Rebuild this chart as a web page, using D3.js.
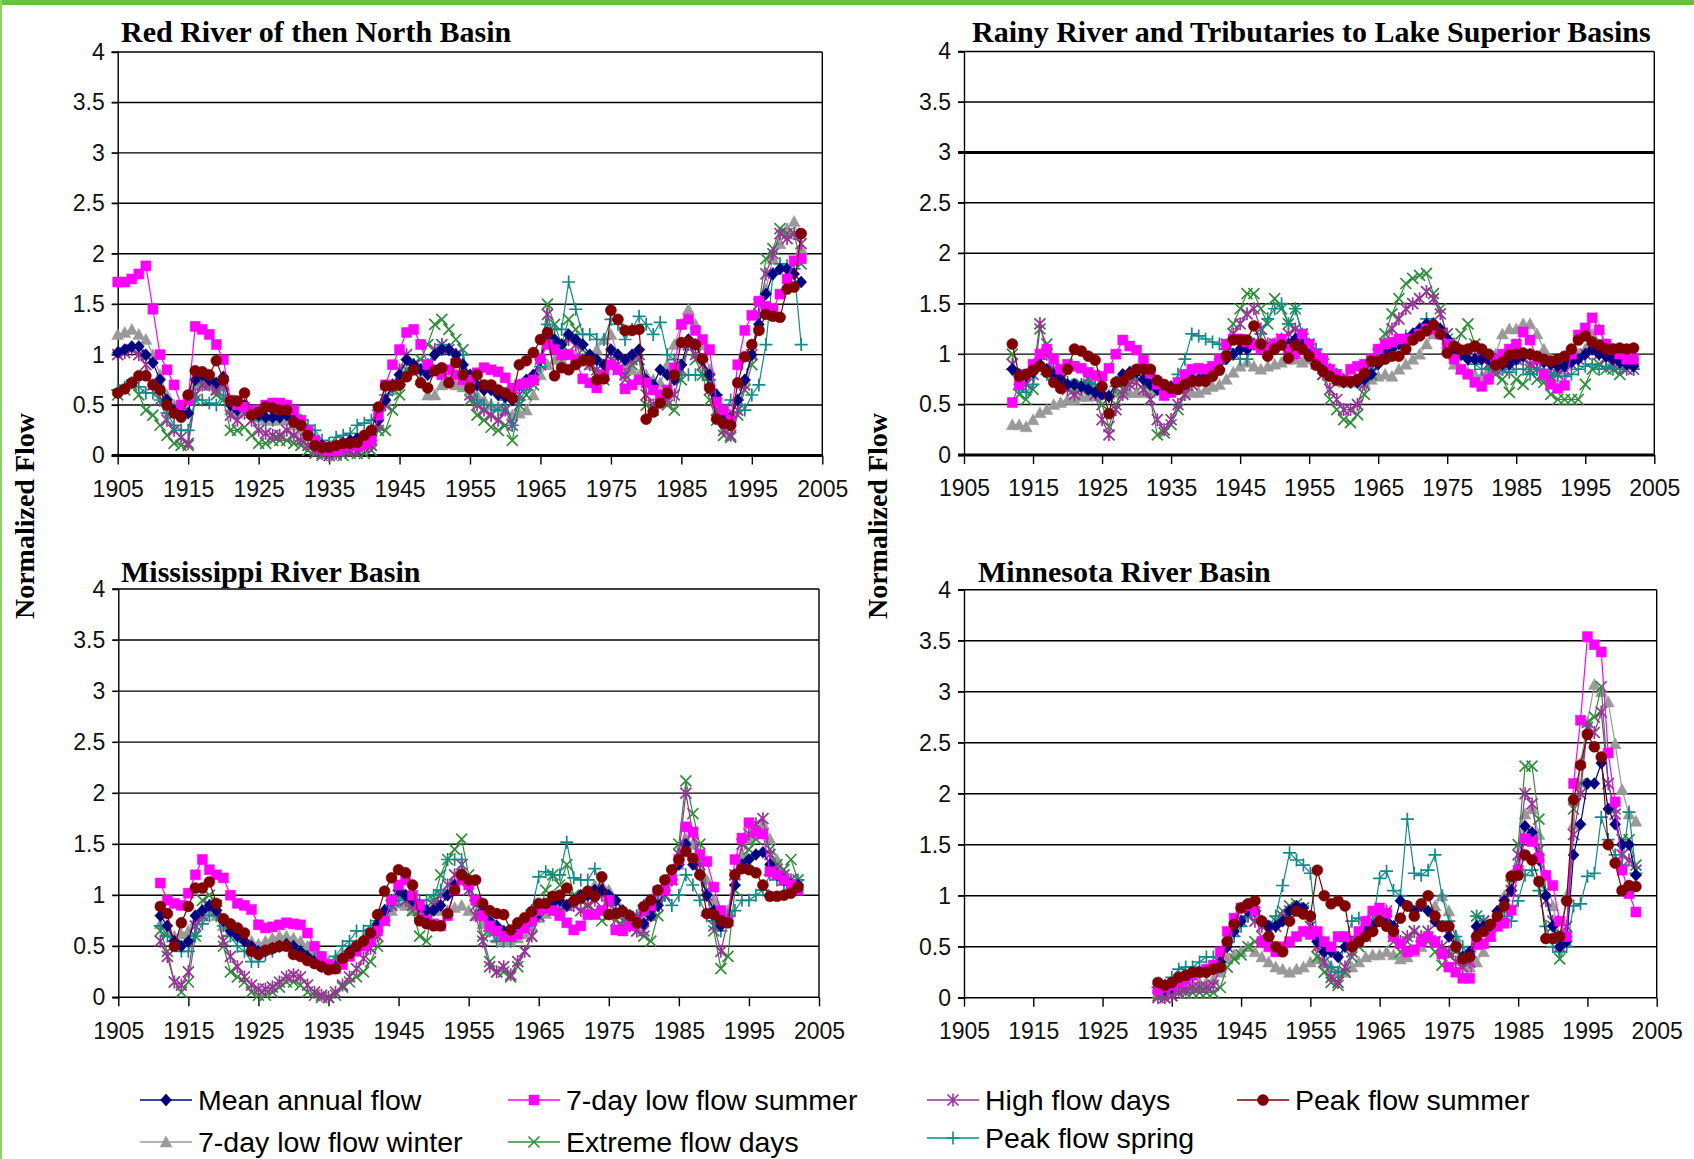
<!DOCTYPE html>
<html><head><meta charset="utf-8">
<script src="https://cdn.jsdelivr.net/npm/d3@7"></script>
<style>body{margin:0;background:#fff;} svg{display:block;}</style>
</head><body>
<svg id="c" width="1694" height="1159"></svg>
<script>
// ---------------- DATA ----------------
const seriesLabels = ["Mean annual flow","7-day low flow summer","High flow days","Peak flow summer","7-day low flow winter","Extreme flow days","Peak flow spring"];
const panelTitles = ["Red River of then North Basin","Rainy River and Tributaries to Lake Superior Basins","Mississippi River Basin","Minnesota River Basin"];
const yTickValues = [0,0.5,1,1.5,2,2.5,3,3.5,4];
const xTickValues = [1905,1915,1925,1935,1945,1955,1965,1975,1985,1995,2005];

// Red River of the North (1905-2002)
const redStart = 1905;
const redMean = [1.02,1.05,1.08,1.08,1.00,
0.92,0.75,0.55,0.45,0.42,0.42,0.75,0.80,0.75,0.72,
0.78,0.50,0.45,0.50,0.45,0.40,0.38,0.38,0.38,0.40,
0.35,0.30,0.22,0.15,0.10,0.08,0.08,0.12,0.15,0.17,
0.18,0.20,0.35,0.55,0.70,0.80,0.95,0.90,0.85,0.80,
1.00,1.05,1.05,1.00,0.90,0.80,0.70,0.65,0.65,0.60,
0.58,0.55,0.70,0.75,0.80,0.95,1.20,1.15,1.10,1.20,
1.15,1.10,1.00,0.95,0.90,1.05,1.00,0.95,1.00,1.05,
0.75,0.70,0.85,0.80,0.75,0.90,1.15,1.10,0.95,0.80,
0.60,0.40,0.38,0.55,0.75,1.00,1.30,1.60,1.80,1.85,
1.85,1.80,1.72];
const redSummer = [1.72,1.72,1.75,1.80,1.88,
1.45,1.00,0.85,0.70,0.50,0.55,1.28,1.25,1.20,1.10,
0.95,0.55,0.50,0.48,0.45,0.45,0.50,0.52,0.52,0.50,
0.45,0.35,0.25,0.15,0.08,0.05,0.05,0.08,0.10,0.10,
0.12,0.15,0.40,0.70,0.90,1.05,1.22,1.25,1.10,0.90,
0.85,0.80,0.85,0.80,0.75,0.75,0.82,0.87,0.85,0.83,
0.77,0.67,0.70,0.72,0.75,0.96,1.10,1.05,1.00,1.00,
0.95,0.76,0.72,0.67,0.80,0.90,0.85,0.66,0.70,0.75,
0.72,0.65,0.60,0.65,0.87,1.30,1.35,1.24,1.15,1.05,
0.53,0.45,0.35,0.90,1.24,1.39,1.53,1.48,1.45,1.60,
1.75,1.93,1.95];
const redHigh = [1.00,1.02,1.05,1.00,0.90,
0.70,0.55,0.35,0.25,0.18,0.12,0.60,0.70,0.70,0.65,
0.70,0.40,0.35,0.42,0.35,0.25,0.22,0.20,0.20,0.25,
0.20,0.15,0.10,0.05,0.02,0.00,0.02,0.05,0.05,0.05,
0.08,0.10,0.30,0.50,0.70,0.85,1.00,0.90,0.85,0.90,
1.05,1.10,1.05,1.00,0.85,0.60,0.50,0.45,0.40,0.35,
0.45,0.30,0.60,0.70,0.75,0.90,1.40,1.10,1.00,1.15,
1.10,0.95,0.90,0.85,0.80,0.95,0.90,0.80,0.95,1.00,
0.60,0.50,0.60,0.55,0.60,0.85,1.10,1.00,0.90,0.65,
0.45,0.25,0.20,0.45,0.70,1.00,1.40,1.80,2.00,2.20,
2.15,2.20,2.10];
const redPeakSummer = [0.62,0.66,0.72,0.79,0.79,
0.70,0.65,0.50,0.42,0.38,0.60,0.84,0.83,0.80,0.94,
0.75,0.54,0.54,0.62,0.40,0.43,0.48,0.47,0.45,0.45,
0.33,0.30,0.20,0.10,0.08,0.08,0.10,0.12,0.12,0.13,
0.20,0.25,0.48,0.69,0.69,0.70,0.78,0.85,0.72,0.67,
0.84,0.87,0.72,0.92,0.80,0.67,0.80,0.70,0.70,0.65,
0.62,0.57,0.90,0.94,1.02,1.15,1.22,0.79,0.87,0.85,
0.90,0.94,0.94,0.75,0.76,1.44,1.35,1.24,1.24,1.25,
0.36,0.43,0.52,0.62,0.80,1.12,1.13,1.10,0.96,0.67,
0.36,0.32,0.30,0.72,0.98,1.10,1.24,1.40,1.38,1.37,
1.65,1.67,2.20];
const redWinter = [1.20,1.22,1.25,1.20,1.15,
1.00,0.80,0.60,0.50,0.45,0.45,0.70,0.72,0.70,0.65,
0.70,0.45,0.42,0.45,0.42,0.38,0.35,0.35,0.35,0.35,
0.30,0.25,0.20,0.12,0.08,0.06,0.06,0.08,0.10,0.10,
0.12,0.15,0.30,0.55,0.65,0.75,0.85,0.85,0.75,0.60,
0.60,0.70,0.75,0.70,0.68,0.65,0.60,0.55,0.50,0.48,
0.45,0.40,0.42,0.45,0.60,0.80,0.90,0.95,0.95,1.00,
1.00,0.95,0.90,1.05,1.15,1.20,1.00,0.90,0.85,0.80,
0.80,0.75,0.72,0.90,1.10,1.30,1.45,1.30,1.10,0.85,
0.60,0.45,0.40,0.55,0.75,1.00,1.30,1.65,1.95,2.10,
2.25,2.32,2.05];
const redExtreme = [0.60,0.65,0.70,0.60,0.45,
0.40,0.30,0.20,0.12,0.10,0.10,0.55,0.75,0.72,0.60,
0.55,0.25,0.25,0.28,0.20,0.12,0.12,0.15,0.15,0.15,
0.12,0.10,0.05,0.02,0.00,0.00,0.00,0.00,0.02,0.02,
0.02,0.05,0.25,0.25,0.45,0.60,0.85,0.90,0.95,1.10,
1.30,1.35,1.25,1.15,1.05,0.55,0.40,0.35,0.28,0.25,
0.30,0.15,0.50,0.60,0.70,0.95,1.50,1.30,1.10,1.35,
1.25,1.05,0.95,0.80,0.75,0.90,0.85,0.75,0.90,0.95,
0.50,0.45,0.55,0.50,0.45,0.75,1.10,0.95,0.80,0.55,
0.35,0.20,0.18,0.40,0.65,0.90,1.50,1.95,2.05,2.25,
2.20,2.20,1.90];
const redSpring = [0.65,0.68,0.72,0.68,0.62,
0.62,0.55,0.42,0.30,0.25,0.25,0.55,0.55,0.52,0.50,
0.60,0.50,0.45,0.48,0.40,0.35,0.35,0.35,0.38,0.42,
0.40,0.35,0.30,0.25,0.15,0.12,0.18,0.20,0.22,0.30,
0.32,0.35,0.45,0.60,0.65,0.70,0.80,0.90,0.85,0.90,
1.00,1.10,1.05,1.00,1.00,0.75,0.55,0.50,0.50,0.45,
0.55,0.30,0.55,0.65,0.75,0.88,1.30,1.25,1.25,1.72,
1.45,1.20,1.20,1.15,1.15,1.35,1.30,1.15,1.25,1.38,
1.30,1.20,1.32,1.00,0.95,0.80,0.80,0.80,0.80,0.75,
0.60,0.45,0.55,0.55,0.45,0.60,0.70,1.10,1.80,1.90,
1.88,1.85,1.10];

// Rainy River and Tributaries to Lake Superior (1912-2002)
const rainyStart = 1912;
const rainyMean = [0.85,0.80,0.78,0.82,0.90,0.85,0.80,0.75,
0.70,0.70,0.68,0.65,0.62,0.60,0.58,0.72,0.80,0.82,
0.82,0.75,0.70,0.65,0.65,0.68,0.70,0.72,0.75,0.75,
0.80,0.82,0.85,0.95,1.00,1.05,1.05,1.10,1.05,1.05,
1.05,1.10,1.10,1.15,1.10,1.05,0.95,0.85,0.80,0.75,
0.72,0.72,0.72,0.75,0.80,0.90,1.00,1.05,1.10,1.15,
1.20,1.25,1.30,1.30,1.25,1.15,1.05,1.00,0.95,0.95,
0.95,0.95,0.95,0.90,0.90,0.95,0.98,1.00,0.95,0.92,
0.90,0.88,0.88,0.92,0.95,1.00,1.05,1.00,0.98,0.95,
0.92,0.90,0.88];
const rainySummer = [0.52,0.70,0.80,0.90,1.00,1.05,0.95,0.85,
0.90,0.88,0.86,0.82,0.79,0.78,0.86,1.00,1.14,1.08,
1.04,0.94,0.81,0.70,0.59,0.62,0.72,0.80,0.85,0.86,
0.85,0.88,0.95,1.10,1.15,1.15,1.12,1.10,1.05,1.05,
1.10,1.15,1.05,1.00,1.20,1.10,1.00,0.95,0.85,0.80,
0.75,0.85,0.88,0.90,0.95,1.05,1.10,1.12,1.15,1.15,
1.15,1.20,1.25,1.25,1.20,1.10,0.95,0.85,0.80,0.72,
0.68,0.75,0.95,1.00,1.05,1.10,1.22,1.14,0.95,0.80,
0.70,0.66,0.69,1.00,1.19,1.26,1.36,1.24,1.10,1.05,
1.00,0.95,0.95];
const rainyHigh = [0.90,0.75,0.70,0.80,1.30,1.00,0.85,0.75,
0.65,0.60,0.65,0.70,0.60,0.35,0.20,0.45,0.60,0.70,
0.72,0.65,0.55,0.35,0.25,0.35,0.50,0.60,0.70,0.75,
0.80,0.85,0.90,1.05,1.20,1.30,1.40,1.45,1.25,1.10,
1.10,1.15,1.20,1.25,1.15,1.05,0.95,0.80,0.65,0.55,
0.45,0.45,0.50,0.70,0.85,1.00,1.10,1.25,1.35,1.45,
1.50,1.55,1.62,1.55,1.40,1.20,1.05,1.00,1.00,1.05,
0.95,0.90,0.85,0.85,0.90,0.95,0.95,0.90,0.85,0.80,
0.78,0.80,0.85,0.90,0.95,1.00,1.05,1.00,0.95,0.90,
0.88,0.85,0.85];
const rainyPeakSummer = [1.10,0.78,0.80,0.84,0.88,0.82,0.72,0.66,
0.85,1.05,1.03,0.98,0.94,0.68,0.41,0.72,0.73,0.80,
0.85,0.85,0.85,0.74,0.70,0.66,0.65,0.70,0.73,0.73,
0.73,0.78,0.84,0.98,1.14,1.14,1.14,1.28,1.10,0.98,
1.05,1.09,0.96,1.09,1.05,0.98,0.89,0.83,0.78,0.74,
0.73,0.73,0.75,0.81,0.93,0.93,0.95,0.98,0.98,1.05,
1.14,1.18,1.23,1.29,1.20,1.01,1.08,1.04,1.05,1.08,
1.05,1.00,0.89,0.92,0.99,1.00,1.01,1.00,0.98,0.95,
0.93,0.95,0.98,1.05,1.14,1.18,1.12,1.09,1.05,1.05,
1.06,1.05,1.06];
const rainyWinter = [0.30,0.30,0.28,0.35,0.42,0.45,0.50,0.52,
0.55,0.55,0.58,0.58,0.60,0.62,0.60,0.62,0.62,0.62,
0.62,0.62,0.62,0.65,0.65,0.65,0.68,0.65,0.62,0.62,
0.65,0.68,0.70,0.75,0.82,0.88,0.92,0.88,0.85,0.88,
0.90,0.92,0.95,0.95,0.92,0.95,0.90,0.85,0.80,0.75,
0.72,0.72,0.72,0.72,0.75,0.78,0.80,0.78,0.85,0.90,
0.95,1.00,1.10,1.20,1.20,1.10,0.90,0.85,0.82,0.80,
0.78,0.85,1.00,1.20,1.25,1.25,1.30,1.30,1.20,1.05,
0.95,0.85,0.90,0.95,1.00,1.05,1.20,1.25,1.10,1.05,
1.00,0.95,0.92];
const rainyExtreme = [1.00,0.60,0.55,0.65,1.25,1.10,0.95,0.85,
0.70,0.65,0.70,0.75,0.65,0.50,0.28,0.50,0.65,0.75,
0.78,0.70,0.55,0.20,0.22,0.30,0.45,0.60,0.70,0.75,
0.80,0.85,0.95,1.10,1.30,1.45,1.60,1.60,1.45,1.30,
1.55,1.45,1.30,1.45,1.20,1.10,0.95,0.80,0.55,0.45,
0.35,0.32,0.40,0.60,0.80,1.00,1.20,1.40,1.55,1.70,
1.75,1.78,1.80,1.60,1.45,1.15,1.00,1.20,1.30,1.10,
0.95,0.90,0.80,0.75,0.62,0.75,0.70,0.85,0.75,0.72,
0.60,0.55,0.55,0.55,0.55,0.70,0.85,0.90,0.85,0.85,
0.80,0.90,0.90];
const rainySpring = [0.85,0.65,0.62,0.70,0.95,0.80,0.75,0.72,
0.72,0.70,0.70,0.72,0.70,0.62,0.58,0.68,0.78,0.82,
0.82,0.75,0.70,0.65,0.60,0.65,0.80,0.95,1.20,1.18,
1.15,1.12,1.10,1.05,1.00,0.95,0.95,1.10,1.20,1.35,
1.45,1.50,1.30,1.45,1.20,1.10,1.05,0.95,0.85,0.80,
0.75,0.72,0.72,0.78,0.85,0.95,1.05,1.10,1.12,1.18,
1.20,1.25,1.35,1.30,1.25,1.15,1.10,1.00,0.95,0.90,
0.85,0.85,0.88,0.85,0.82,0.85,0.85,0.80,0.85,0.85,
0.82,0.78,0.78,0.80,0.85,0.88,0.90,0.85,0.88,0.85,
0.85,0.88,0.85];

// Mississippi River (1911-2002)
const missStart = 1911;
const missMean = [0.80,0.70,0.55,0.50,0.55,0.80,0.85,0.90,0.85,
0.75,0.65,0.60,0.55,0.50,0.45,0.45,0.48,0.50,0.52,
0.50,0.45,0.40,0.35,0.30,0.28,0.30,0.35,0.45,0.50,
0.55,0.62,0.72,0.85,0.95,1.05,1.00,0.95,0.90,0.85,
0.85,0.90,1.00,1.10,1.20,1.10,0.95,0.85,0.75,0.70,
0.65,0.62,0.65,0.70,0.75,0.82,0.88,0.92,0.95,0.90,
0.95,1.00,1.00,1.05,1.05,1.00,0.95,0.85,0.80,0.75,
0.72,0.80,0.90,1.05,1.15,1.30,1.50,1.30,1.20,1.00,
0.85,0.70,0.75,1.10,1.30,1.35,1.40,1.42,1.30,1.20,
1.15,1.10,1.10];
const missSummer = [1.12,0.95,0.92,0.90,1.02,1.20,1.35,1.25,1.20,
1.17,1.00,0.92,0.90,0.86,0.71,0.68,0.69,0.71,0.73,
0.72,0.71,0.63,0.50,0.40,0.32,0.28,0.32,0.40,0.45,
0.50,0.55,0.65,0.75,0.95,1.10,1.15,1.00,0.90,0.75,
0.72,0.70,0.80,1.05,1.15,1.10,0.95,0.80,0.70,0.65,
0.60,0.60,0.62,0.68,0.75,0.85,0.88,0.85,0.80,0.73,
0.66,0.70,0.81,0.81,0.85,0.95,0.66,0.65,0.70,0.75,
0.85,0.90,1.04,1.05,1.15,1.35,1.67,1.62,1.40,1.33,
1.08,0.85,0.75,1.35,1.56,1.71,1.62,1.60,1.23,1.20,
1.15,1.10,1.05];
const missHigh = [0.55,0.40,0.15,0.12,0.25,0.70,0.80,0.90,0.85,
0.55,0.40,0.30,0.20,0.12,0.08,0.08,0.10,0.15,0.20,
0.22,0.20,0.12,0.05,0.02,0.00,0.05,0.12,0.20,0.28,
0.38,0.48,0.60,0.80,0.90,1.00,0.95,0.90,0.85,0.85,
0.90,1.00,1.10,1.20,1.30,1.05,0.80,0.55,0.30,0.25,
0.30,0.22,0.35,0.45,0.60,0.80,0.90,0.90,0.85,0.90,
0.90,0.85,0.90,0.95,1.00,0.95,0.85,0.75,0.70,0.65,
0.65,0.80,0.90,1.00,1.15,1.40,2.00,1.60,1.30,1.00,
0.70,0.45,0.75,1.20,1.50,1.60,1.70,1.75,1.40,1.25,
1.20,1.15,1.10];
const missPeakSummer = [0.89,0.82,0.50,0.73,0.89,1.07,1.07,1.13,0.92,
0.77,0.72,0.68,0.63,0.45,0.42,0.46,0.48,0.50,0.50,
0.42,0.40,0.36,0.33,0.30,0.27,0.28,0.38,0.43,0.50,
0.55,0.63,0.81,1.04,1.17,1.25,1.22,1.10,0.75,0.72,
0.70,0.70,0.82,1.05,1.20,1.15,1.15,0.92,0.85,0.82,
0.81,0.66,0.73,0.78,0.84,0.92,0.92,0.99,1.00,1.07,
0.94,0.97,1.04,0.99,1.18,0.81,0.82,0.84,0.80,0.73,
0.89,0.95,1.05,1.15,1.25,1.35,1.43,1.36,1.20,0.82,
0.81,0.75,0.73,1.20,1.26,1.25,1.22,1.10,0.99,0.99,
1.00,1.02,1.08];
const missWinter = [0.72,0.65,0.60,0.62,0.65,0.75,0.80,0.85,0.80,
0.70,0.65,0.60,0.58,0.55,0.52,0.55,0.58,0.60,0.60,
0.58,0.55,0.50,0.45,0.40,0.35,0.38,0.42,0.48,0.52,
0.58,0.62,0.70,0.80,0.85,0.92,0.90,0.85,0.85,0.82,
0.85,0.85,0.85,0.88,0.90,0.85,0.80,0.72,0.65,0.58,
0.55,0.55,0.58,0.62,0.70,0.78,0.82,0.85,0.88,0.90,
0.95,1.00,1.05,1.10,1.10,1.05,0.95,0.85,0.80,0.80,
0.80,0.85,0.95,1.05,1.15,1.30,1.55,1.50,1.35,1.15,
0.95,0.80,0.85,1.20,1.40,1.55,1.65,1.70,1.55,1.35,
1.20,1.10,1.05];
const missExtreme = [0.65,0.45,0.15,0.05,0.15,0.60,0.95,1.00,0.90,
0.50,0.25,0.20,0.15,0.05,0.02,0.02,0.05,0.10,0.15,
0.15,0.12,0.05,0.02,0.00,0.00,0.02,0.10,0.15,0.20,
0.25,0.35,0.50,0.75,0.90,1.00,0.95,0.85,0.60,0.55,
0.95,1.20,1.35,1.45,1.55,1.20,0.90,0.60,0.35,0.25,
0.25,0.20,0.30,0.45,0.60,0.80,1.05,1.20,1.10,1.30,
1.00,0.95,0.90,0.85,0.75,0.80,0.75,0.70,0.70,0.65,
0.60,0.55,0.80,1.00,1.20,1.50,2.12,1.80,1.50,1.05,
0.65,0.28,0.40,1.05,1.30,1.45,1.55,1.60,1.45,1.30,
1.25,1.35,1.15];
const missSpring = [0.70,0.60,0.55,0.45,0.45,0.60,0.72,0.80,0.80,
0.70,0.60,0.50,0.45,0.35,0.35,0.42,0.45,0.50,0.52,
0.50,0.45,0.40,0.38,0.35,0.30,0.40,0.50,0.55,0.65,
0.65,0.70,0.75,0.85,0.90,0.95,1.00,1.00,0.95,0.95,
1.00,1.05,1.35,1.35,1.35,1.10,0.95,0.85,0.65,0.55,
0.55,0.55,0.65,0.70,0.85,1.18,1.23,1.20,1.20,1.52,
1.17,1.15,1.15,1.26,1.05,0.95,0.85,0.80,0.80,0.80,
0.90,0.95,1.00,1.00,0.90,1.00,1.20,1.10,0.95,0.80,
0.75,0.65,0.80,0.85,0.95,0.95,1.00,1.05,1.20,1.15,
1.10,1.10,1.15];

// Minnesota River (1933-2002)
const minnStart = 1933;
const minnMean = [0.10,0.08,0.10,0.15,0.20,0.22,0.25,
0.25,0.28,0.35,0.50,0.65,0.75,0.85,0.85,0.75,0.70,
0.70,0.75,0.85,0.90,0.88,0.80,0.55,0.45,0.45,0.40,
0.50,0.55,0.60,0.65,0.70,0.75,0.75,0.70,0.95,0.90,
0.85,0.90,0.85,0.75,0.70,0.60,0.50,0.40,0.45,0.70,
0.70,0.70,0.85,0.95,1.05,1.25,1.68,1.62,1.35,1.00,
0.70,0.50,0.55,1.40,1.70,2.10,2.10,2.30,1.85,1.70,
1.50,1.50,1.20];
const minnSummer = [0.08,0.10,0.12,0.15,0.18,0.22,0.25,
0.28,0.32,0.45,0.65,0.78,0.88,0.90,0.85,0.55,0.50,
0.45,0.50,0.55,0.60,0.65,0.62,0.65,0.55,0.50,0.60,
0.60,0.55,0.65,0.75,0.85,0.88,0.83,0.60,0.53,0.45,
0.47,0.55,0.60,0.55,0.43,0.30,0.25,0.19,0.19,0.52,
0.53,0.60,0.70,0.73,0.86,1.25,1.56,1.53,1.37,1.20,
1.10,0.75,0.60,2.10,2.72,3.54,3.46,3.39,2.40,1.92,
1.25,1.02,0.84];
const minnHigh = [0.00,0.00,0.02,0.05,0.08,0.10,0.10,
0.10,0.12,0.30,0.50,0.65,0.75,0.80,0.75,0.70,0.65,
0.70,0.80,0.85,0.88,0.85,0.70,0.50,0.35,0.20,0.15,
0.30,0.45,0.55,0.65,0.75,0.80,0.85,0.60,0.55,0.60,
0.65,0.60,0.65,0.55,0.50,0.45,0.35,0.30,0.35,0.65,
0.75,0.70,0.80,0.95,1.05,1.40,2.00,1.90,1.45,0.95,
0.75,0.50,0.70,1.60,2.00,2.65,2.60,2.80,2.10,1.80,
1.40,1.35,1.25];
const minnPeakSummer = [0.15,0.12,0.15,0.20,0.22,0.25,0.25,
0.25,0.28,0.30,0.55,0.72,0.88,0.92,0.95,0.75,0.60,
0.50,0.45,0.75,0.85,0.82,0.80,1.25,1.00,0.92,0.95,
0.90,0.50,0.55,0.60,0.65,0.75,0.70,0.65,0.78,0.90,
0.80,0.92,1.00,0.80,0.70,0.70,0.50,0.38,0.40,0.60,
0.65,0.72,0.80,0.90,1.19,1.20,1.40,1.35,1.14,0.58,
0.58,0.60,0.95,1.94,2.28,2.58,2.46,2.36,1.50,1.32,
1.05,1.10,1.09];
const minnWinter = [0.05,0.05,0.08,0.10,0.12,0.12,0.15,
0.15,0.18,0.25,0.38,0.42,0.45,0.50,0.45,0.40,0.35,
0.30,0.28,0.25,0.28,0.30,0.35,0.38,0.35,0.30,0.25,
0.25,0.30,0.35,0.40,0.42,0.42,0.45,0.42,0.38,0.40,
0.45,0.50,0.60,0.90,1.00,0.85,0.60,0.40,0.30,0.35,
0.45,0.60,0.80,1.00,1.20,1.30,1.80,1.85,1.60,1.20,
0.90,0.60,1.00,1.70,2.30,2.70,3.07,3.00,2.90,2.49,
2.04,1.80,1.73];
const minnExtreme = [0.02,0.00,0.02,0.05,0.05,0.05,0.05,
0.05,0.05,0.10,0.30,0.38,0.42,0.50,0.55,0.60,0.65,
0.75,0.85,0.90,0.92,0.88,0.65,0.40,0.25,0.15,0.12,
0.25,0.40,0.50,0.60,0.70,0.75,0.80,0.55,0.45,0.55,
0.65,0.60,0.55,0.45,0.32,0.42,0.45,0.40,0.35,0.80,
0.75,0.70,0.75,0.85,1.10,1.50,2.27,2.27,1.75,1.05,
0.70,0.38,0.55,1.85,2.10,2.70,2.75,3.05,2.10,1.85,
1.55,1.55,1.30];
const minnSpring = [0.10,0.12,0.20,0.28,0.30,0.30,0.35,
0.40,0.40,0.35,0.50,0.60,0.70,0.80,0.85,0.75,0.70,
0.80,1.10,1.42,1.35,1.30,1.22,0.60,0.45,0.30,0.25,
0.55,0.75,0.78,0.70,0.72,1.17,1.24,1.05,1.00,1.75,
1.22,1.20,1.25,1.40,1.00,0.75,0.60,0.50,0.40,0.80,
0.75,0.70,0.75,0.80,0.75,0.95,1.20,1.25,1.05,0.70,
0.50,0.45,0.50,0.90,0.92,1.19,1.22,1.77,1.55,1.40,
1.30,1.82,1.22];

// ---------------- STYLE / LAYOUT ----------------
const seriesStyle = [
  {key:0, color:"#000080", marker:"diamond"},
  {key:1, color:"#ff00ff", marker:"square"},
  {key:2, color:"#993399", marker:"star"},
  {key:3, color:"#800000", marker:"circle"},
  {key:4, color:"#9a9a9a", marker:"triangle"},
  {key:5, color:"#2f8f3a", marker:"x"},
  {key:6, color:"#138a8a", marker:"plus"}
];
const drawOrder = [4,5,2,6,0,1,3];

const panels = [
  {title:panelTitles[0], start:redStart, series:[redMean,redSummer,redHigh,redPeakSummer,redWinter,redExtreme,redSpring],
   l:117.7, r:822.3, t:52, b:455.5, tx:121, ty:42, thick:[0]},
  {title:panelTitles[1], start:rainyStart, series:[rainyMean,rainySummer,rainyHigh,rainyPeakSummer,rainyWinter,rainyExtreme,rainySpring],
   l:964, r:1654.3, t:51.5, b:455, tx:972, ty:42, thick:[0,3]},
  {title:panelTitles[2], start:missStart, series:[missMean,missSummer,missHigh,missPeakSummer,missWinter,missExtreme,missSpring],
   l:118.3, r:819, t:589, b:997.3, tx:121, ty:582, thick:[]},
  {title:panelTitles[3], start:minnStart, series:[minnMean,minnSummer,minnHigh,minnPeakSummer,minnWinter,minnExtreme,minnSpring],
   l:964, r:1656.7, t:589.7, b:997.7, tx:978, ty:582, thick:[]}
];

function markerPath(type){
  switch(type){
    case "diamond": return "M0,-6L5.5,0L0,6L-5.5,0Z";
    case "square": return "M-5,-5h10v10h-10Z";
    case "triangle": return "M0,-6L6,5L-6,5Z";
    case "circle": return d3.symbol(d3.symbolCircle, 95)();
    case "x": return "M-5.5,-5.5L5.5,5.5M-5.5,5.5L5.5,-5.5";
    case "star": return "M-5.5,-5.5L5.5,5.5M-5.5,5.5L5.5,-5.5M0,-6.5V6.5";
    case "plus": return "M-6.5,0H6.5M0,-6.5V6.5";
  }
}
const stroked = {x:true, star:true, plus:true};

const svg = d3.select("#c");
svg.append("rect").attr("width",1694).attr("height",1159).attr("fill","#fff");
svg.append("rect").attr("x",0).attr("y",0).attr("width",1694).attr("height",5).attr("fill","#6cbf3f");
svg.append("rect").attr("x",0).attr("y",0).attr("width",2).attr("height",1159).attr("fill","#8fd06a");

const tickFont = "'Liberation Sans', Arial, sans-serif";
const serifFont = "'Liberation Serif', 'Times New Roman', serif";

panels.forEach(p => {
  const g = svg.append("g");
  const x = d3.scaleLinear().domain([1905,2005]).range([p.l,p.r]);
  const y = d3.scaleLinear().domain([0,4]).range([p.b,p.t]);

  g.append("g").selectAll("line").data(yTickValues).join("line")
    .attr("x1",p.l-6).attr("x2",p.r)
    .attr("y1",d=>y(d)).attr("y2",d=>y(d))
    .attr("stroke","#000")
    .attr("stroke-width",d=>p.thick.includes(d)?3:1.4);
  g.append("line").attr("x1",p.r).attr("x2",p.r).attr("y1",p.t).attr("y2",p.b).attr("stroke","#000").attr("stroke-width",1.4);

  const ya = g.append("g").attr("transform",`translate(${p.l},0)`)
    .call(d3.axisLeft(y).tickValues(yTickValues).tickSize(6).tickPadding(7).tickFormat(d3.format("")));
  ya.select(".domain").attr("stroke","#000").attr("stroke-width",1.4);
  ya.selectAll(".tick line").attr("stroke","#000");
  ya.selectAll("text").attr("font-family",tickFont).attr("font-size",23).attr("fill","#111");

  const xa = g.append("g").attr("transform",`translate(0,${p.b})`)
    .call(d3.axisBottom(x).tickValues(xTickValues).tickSize(9).tickPadding(16).tickFormat(d3.format("d")));
  xa.select(".domain").remove();
  xa.selectAll(".tick line").attr("stroke","#000").attr("stroke-width",1.4);
  xa.selectAll("text").attr("font-family",tickFont).attr("font-size",23).attr("fill","#111");

  g.append("text").attr("x",p.tx).attr("y",p.ty).text(p.title)
    .attr("font-family",serifFont).attr("font-weight","bold").attr("font-size",30).attr("fill","#000");

  drawOrder.forEach(si => {
    const st = seriesStyle[si];
    const pts = p.series[si].map((v,i)=>({yr:p.start+i, v}));
    const line = d3.line().x(d=>x(d.yr)).y(d=>y(d.v));
    g.append("path").datum(pts).attr("d",line).attr("fill","none")
      .attr("stroke",st.color).attr("stroke-width",1.2);
    const mp = markerPath(st.marker);
    g.append("g").selectAll("path").data(pts).join("path")
      .attr("transform",d=>`translate(${x(d.yr)},${y(d.v)})`)
      .attr("d",mp)
      .attr("fill",stroked[st.marker]?"none":st.color)
      .attr("stroke",st.color)
      .attr("stroke-width",stroked[st.marker]?1.7:0.5);
  });
});

[[24,516],[877,516]].forEach(([cx,cy])=>{
  svg.append("text").attr("transform",`translate(${cx},${cy}) rotate(-90)`)
    .attr("text-anchor","middle").attr("dy","0.35em")
    .attr("font-family",serifFont).attr("font-weight","bold").attr("font-size",28)
    .text("Normalized Flow");
});

const legendItems = [
  {si:0, x:140, y:1100},{si:1, x:508, y:1100},{si:2, x:927, y:1100},{si:3, x:1237, y:1100},
  {si:4, x:140, y:1142},{si:5, x:508, y:1142},{si:6, x:927, y:1138}
];
const lg = svg.append("g");
legendItems.forEach(it=>{
  const st = seriesStyle[it.si];
  lg.append("line").attr("x1",it.x).attr("x2",it.x+52).attr("y1",it.y).attr("y2",it.y)
    .attr("stroke",st.color).attr("stroke-width",1.6);
  lg.append("path").attr("transform",`translate(${it.x+26},${it.y})`).attr("d",markerPath(st.marker))
    .attr("fill",stroked[st.marker]?"none":st.color).attr("stroke",st.color)
    .attr("stroke-width",stroked[st.marker]?1.6:0.5);
  lg.append("text").attr("x",it.x+58).attr("y",it.y).attr("dy","0.36em")
    .attr("font-family",tickFont).attr("font-size",28.5).attr("fill","#000")
    .text(seriesLabels[it.si]);
});
</script>
</body></html>
